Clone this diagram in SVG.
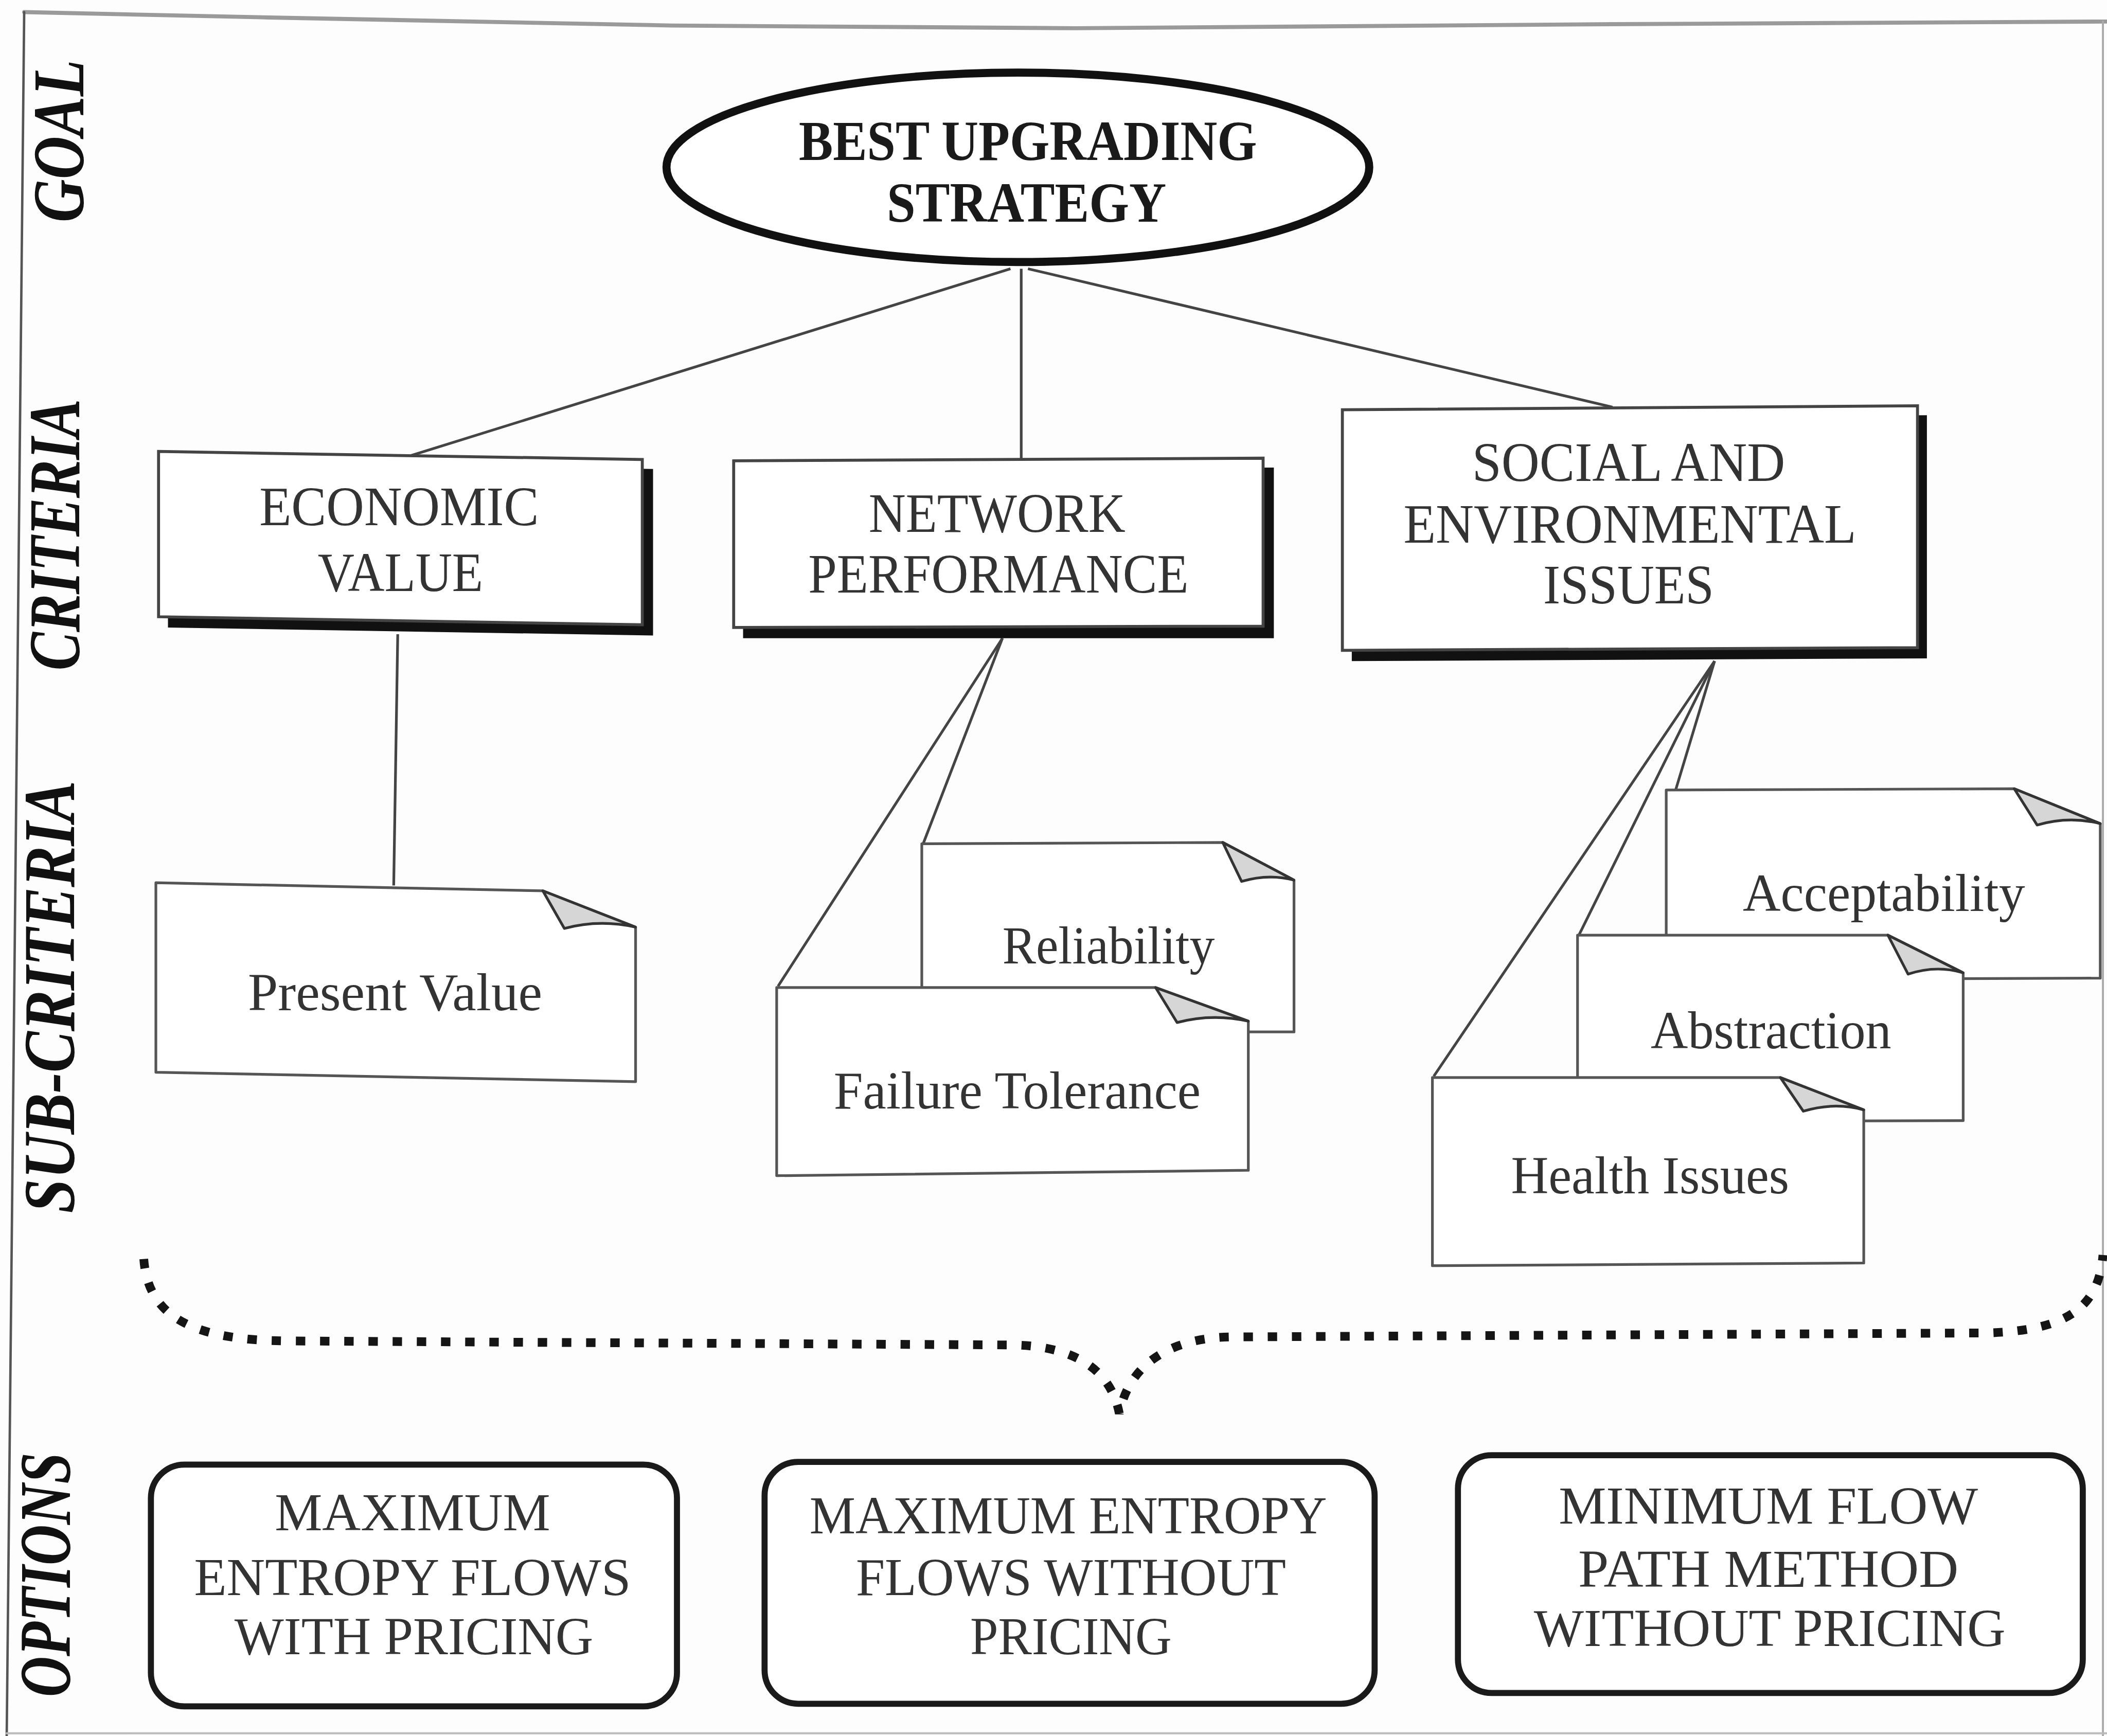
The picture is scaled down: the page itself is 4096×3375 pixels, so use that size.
<svg xmlns="http://www.w3.org/2000/svg" width="4096" height="3375" viewBox="0 0 4096 3375">
  <style>
    .frame { fill: none; stroke-linecap: round; }
    .lvl { font-family: "Liberation Serif", "Times New Roman", serif; font-weight: bold; font-style: italic; font-size: 54px; fill: #111; text-anchor: middle; }
    .goal-t { font-family: "Liberation Serif", "Times New Roman", serif; font-weight: bold; font-size: 42px; fill: #1a1a1a; text-anchor: middle; }
    .txt { font-family: "Liberation Serif", "Times New Roman", serif; font-size: 41px; fill: #333; text-anchor: middle; }
    .sub { font-family: "Liberation Serif", "Times New Roman", serif; font-size: 40px; fill: #333; text-anchor: middle; }
    .opt { font-family: "Liberation Serif", "Times New Roman", serif; font-size: 40px; fill: #333; text-anchor: middle; }
    .link { fill: none; stroke: #444; stroke-width: 2; }
    .crit { fill: #fff; stroke: #444; stroke-width: 2.2; }
    .shadow { fill: #111; }
    .note { fill: #fff; stroke: #555; stroke-width: 2; stroke-linejoin: round; }
    .fold { fill: #d6d6d6; stroke: #333; stroke-width: 2; stroke-linejoin: round; }
    .option { fill: #fff; stroke: #1a1a1a; stroke-width: 4.5; }
    .brace { fill: none; stroke: #151515; stroke-width: 6.5; stroke-dasharray: 7 11; }
  </style>
  <rect width="4096" height="3375" fill="#fdfdfd"/>
  <g transform="scale(2.6122)">
    <!-- page frame -->
    <g id="frame">
      <polyline class="frame" points="18,9 200,13 500,19 800,21 1200,18 1568,16" stroke="#9a9a9a" stroke-width="3"/>
      <line class="frame" x1="18" y1="9" x2="5" y2="1292" stroke="#555" stroke-width="1.8"/>
      <line class="frame" x1="1565" y1="16" x2="1565" y2="1292" stroke="#aaa" stroke-width="1.5"/>
      <line class="frame" x1="5" y1="1290" x2="1568" y2="1290" stroke="#bbb" stroke-width="1.5"/>
    </g>

    <!-- level captions -->
    <g id="levels">
      <text class="lvl" transform="rotate(-90 62 105)" x="62" y="105" textLength="121" lengthAdjust="spacingAndGlyphs">GOAL</text>
      <text class="lvl" transform="rotate(-90 59 398)" x="59" y="398" textLength="202" lengthAdjust="spacingAndGlyphs">CRITERIA</text>
      <text class="lvl" transform="rotate(-90 55 742)" x="55" y="742" textLength="322" lengthAdjust="spacingAndGlyphs">SUB-CRITERIA</text>
      <text class="lvl" transform="rotate(-90 52 1172)" x="52" y="1172" textLength="182" lengthAdjust="spacingAndGlyphs">OPTIONS</text>
    </g>

    <!-- hierarchy links -->
    <g id="connectors">
      <line class="link" x1="752" y1="200" x2="306" y2="339" stroke="#555" stroke-width="2.4"/>
      <line class="link" x1="760" y1="200" x2="760" y2="343"/>
      <line class="link" x1="765" y1="200" x2="1200" y2="303" stroke="#555" stroke-width="2.4"/>
      <line class="link" x1="296" y1="472" x2="293" y2="659"/>
      <line class="link" x1="746" y1="475" x2="579" y2="734"/>
      <line class="link" x1="746" y1="475" x2="687" y2="628"/>
      <line class="link" x1="1276" y1="492" x2="1067" y2="801"/>
      <line class="link" x1="1276" y1="492" x2="1175" y2="696"/>
      <line class="link" x1="1276" y1="492" x2="1247" y2="588"/>
      <path id="brace" class="brace" d="M 107 937 C 110 978, 140 998, 216 998 L 755 1001 C 795 1002, 826 1016, 833 1052 C 840 1016, 870 996, 915 995 L 1480 992 C 1540 990, 1562 972, 1565 934"/>
    </g>

    <!-- goal -->
    <g id="goal">
      <ellipse cx="757.5" cy="124.5" rx="261.5" ry="70.5" fill="#fff" stroke="#111" stroke-width="6"/>
      <text class="goal-t" x="765" y="119" textLength="341" lengthAdjust="spacingAndGlyphs">BEST UPGRADING</text>
      <text class="goal-t" x="764" y="165" textLength="208" lengthAdjust="spacingAndGlyphs">STRATEGY</text>
    </g>

    <!-- criteria -->
    <g id="economic-value">
      <polygon class="shadow" points="125,343 486,349 486,473 125,467"/>
      <polygon class="crit" points="118,336 478,342 478,465 118,459"/>
      <text class="txt" x="297" y="391" textLength="208" lengthAdjust="spacingAndGlyphs">ECONOMIC</text>
      <text class="txt" x="298" y="440" textLength="123" lengthAdjust="spacingAndGlyphs">VALUE</text>
    </g>
    <g id="network-performance">
      <polygon class="shadow" points="553,350 948,348 948,475 553,475"/>
      <polygon class="crit" points="546,343 940,341 940,466 546,467"/>
      <text class="txt" x="742" y="396" textLength="191" lengthAdjust="spacingAndGlyphs">NETWORK</text>
      <text class="txt" x="743" y="441" textLength="283" lengthAdjust="spacingAndGlyphs">PERFORMANCE</text>
    </g>
    <g id="social-environmental">
      <polygon class="shadow" points="1006,312 1434,309 1434,490 1006,492"/>
      <polygon class="crit" points="999,305 1427,302 1427,482 999,484"/>
      <text class="txt" x="1212" y="358" textLength="233" lengthAdjust="spacingAndGlyphs">SOCIAL AND</text>
      <text class="txt" x="1213" y="404" textLength="337" lengthAdjust="spacingAndGlyphs">ENVIRONMENTAL</text>
      <text class="txt" x="1212" y="449" textLength="127" lengthAdjust="spacingAndGlyphs">ISSUES</text>
    </g>

    <!-- sub-criteria notes -->
    <g id="present-value">
      <polygon class="note" points="116,657 404,663 473,690 473,805 116,798"/>
      <path class="fold" d="M 404 663 L 420 691 Q 446 684 473 690 Z"/>
      <text class="sub" x="294" y="752" textLength="219" lengthAdjust="spacingAndGlyphs">Present Value</text>
    </g>
    <g id="reliability">
      <polygon class="note" points="686,628 910,627 963,655 963,768 686,768"/>
      <path class="fold" d="M 910 627 L 924 656 Q 944 650 963 655 Z"/>
      <text class="sub" x="825" y="717" textLength="158" lengthAdjust="spacingAndGlyphs">Reliability</text>
    </g>
    <g id="failure-tolerance">
      <polygon class="note" points="578,735 860,735 929,760 929,871 578,875"/>
      <path class="fold" d="M 860 735 L 876 761 Q 902 754 929 760 Z"/>
      <text class="sub" x="757" y="825" textLength="273" lengthAdjust="spacingAndGlyphs">Failure Tolerance</text>
    </g>
    <g id="acceptability">
      <polygon class="note" points="1240,588 1499,587 1563,613 1563,728 1240,729"/>
      <path class="fold" d="M 1499 587 L 1516 614 Q 1540 607 1563 613 Z"/>
      <text class="sub" x="1402" y="678" textLength="210" lengthAdjust="spacingAndGlyphs">Acceptability</text>
    </g>
    <g id="abstraction">
      <polygon class="note" points="1174,696 1405,696 1461,724 1461,834 1174,835"/>
      <path class="fold" d="M 1405 696 L 1420 725 Q 1441 718 1461 724 Z"/>
      <text class="sub" x="1318" y="780" textLength="179" lengthAdjust="spacingAndGlyphs">Abstraction</text>
    </g>
    <g id="health-issues">
      <polygon class="note" points="1066,802 1325,802 1387,826 1387,940 1066,942"/>
      <path class="fold" d="M 1325 802 L 1342 827 Q 1365 820 1387 826 Z"/>
      <text class="sub" x="1228" y="888" textLength="207" lengthAdjust="spacingAndGlyphs">Health Issues</text>
    </g>

    <!-- options -->
    <g id="option-1">
      <rect class="option" x="112.3" y="1090" width="391.5" height="180" rx="25"/>
      <text class="opt" x="307" y="1139" textLength="205" lengthAdjust="spacingAndGlyphs">MAXIMUM</text>
      <text class="opt" x="307" y="1187" textLength="325" lengthAdjust="spacingAndGlyphs">ENTROPY FLOWS</text>
      <text class="opt" x="308" y="1231" textLength="267" lengthAdjust="spacingAndGlyphs">WITH PRICING</text>
    </g>
    <g id="option-2">
      <rect class="option" x="569" y="1088" width="454" height="180" rx="25"/>
      <text class="opt" x="795" y="1141" textLength="385" lengthAdjust="spacingAndGlyphs">MAXIMUM ENTROPY</text>
      <text class="opt" x="797" y="1187" textLength="320" lengthAdjust="spacingAndGlyphs">FLOWS WITHOUT</text>
      <text class="opt" x="797" y="1231" textLength="150" lengthAdjust="spacingAndGlyphs">PRICING</text>
    </g>
    <g id="option-3">
      <rect class="option" x="1085" y="1083" width="465" height="177" rx="25"/>
      <text class="opt" x="1316" y="1134" textLength="312" lengthAdjust="spacingAndGlyphs">MINIMUM FLOW</text>
      <text class="opt" x="1316" y="1181" textLength="283" lengthAdjust="spacingAndGlyphs">PATH METHOD</text>
      <text class="opt" x="1317" y="1225" textLength="351" lengthAdjust="spacingAndGlyphs">WITHOUT PRICING</text>
    </g>
  </g>
</svg>
